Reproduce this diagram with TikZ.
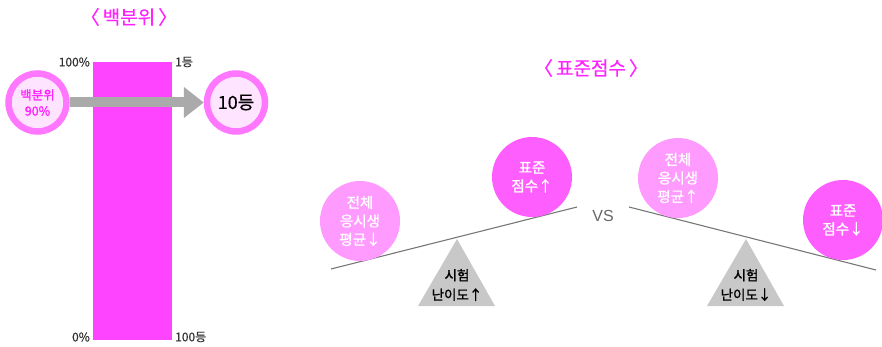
\documentclass[tikz,border=0pt]{standalone}
\usepackage{fontspec}
\setmainfont{Noto Sans CJK KR}[FakeBold=0.5]
\newfontfamily\medfont{Noto Sans CJK KR}[FakeBold=1.2]
\newfontfamily\vsfont{Liberation Sans}
\usetikzlibrary{arrows.meta}
\definecolor{titlemag}{HTML}{FF22FF}
\definecolor{barmag}{HTML}{FF44FF}
\definecolor{ringpink}{HTML}{FF77FF}
\definecolor{softpink}{HTML}{FFE4FF}
\definecolor{arrowgray}{HTML}{AAAAAA}
\definecolor{lightmag}{HTML}{FF9AFF}
\definecolor{darkmag}{HTML}{FF5EFF}
\definecolor{trigray}{HTML}{C8C8C8}
\definecolor{beamgray}{HTML}{777777}
\definecolor{labelgray}{HTML}{333333}
\definecolor{vsgray}{HTML}{666666}
\begin{document}
\begin{tikzpicture}[x=1pt,y=-1pt,
  title/.style={text=titlemag,font=\fontsize{19}{22}\selectfont,inner sep=0pt},
  axislabel/.style={text=labelgray,font=\fontsize{12}{14}\selectfont,inner sep=0pt},
  ringcircle/.style={circle,draw=ringpink,line width=6.5pt,fill=softpink,minimum size=58pt,inner sep=0pt},
  ball/.style={circle,minimum size=80pt,inner sep=0pt,text=white,align=center,font=\medfont\fontsize{14.5}{18.5}\selectfont},
  beam/.style={draw=beamgray,line width=1.1pt},
  fulcrumtext/.style={align=center,font=\medfont\fontsize{13.5}{19.5}\selectfont,text=black,inner sep=0pt}
]
\useasboundingbox (0,0) rectangle (882,347);

% ---- left: percentile ----
\node[title] (t1) at (129,17) {〈\hspace{3pt}백분위\hspace{3pt}〉};
\fill[barmag] (93,62) rectangle (172,340);
\node[axislabel,anchor=east] (p100) at (90,62) {100\%};
\node[axislabel,anchor=west] (r1) at (175,62) {1등};
\node[axislabel,anchor=east] (p0) at (90,337) {0\%};
\node[axislabel,anchor=west] (r100) at (175,337) {100등};

\node[ringcircle,text=titlemag,align=center,font=\medfont\fontsize{12.5}{16}\selectfont] (pc) at (37.5,102.5) {백분위\\90\%};
\node[ringcircle,text=black,font=\fontsize{18}{20}\selectfont] (rk) at (236,102.5) {10등};
\draw[arrowgray,line width=10pt,-{Triangle[length=20pt,width=30pt]}] (pc) -- (rk);

% ---- right: standard score ----
\node[title] (t2) at (591,68) {〈\hspace{3pt}표준점수\hspace{3pt}〉};

% left seesaw
\coordinate (b1l) at (331,269);
\coordinate (b1r) at (577,207);
\fill[trigray] (457,239) -- (418,306) -- (495,306) -- cycle;
\draw[beam] (b1l) -- (b1r);
\node[ball,fill=lightmag] (avg1) at (360,221) {전체\\응시생\\평균↓};
\node[ball,fill=darkmag] (std1) at (532,177) {표준\\점수↑};
\node[fulcrumtext] (f1) at (457,285) {시험\\난이도↑};

\node[text=vsgray,font=\vsfont\fontsize{16}{18}\selectfont,inner sep=0pt] (vs) at (603,216) {VS};

% right seesaw
\coordinate (b2l) at (629,207);
\coordinate (b2r) at (876,270);
\fill[trigray] (746,239) -- (707,306) -- (784,306) -- cycle;
\draw[beam] (b2l) -- (b2r);
\node[ball,fill=lightmag] (avg2) at (678,178) {전체\\응시생\\평균↑};
\node[ball,fill=darkmag] (std2) at (843,220) {표준\\점수↓};
\node[fulcrumtext] (f2) at (746,285) {시험\\난이도↓};
\end{tikzpicture}
\end{document}
